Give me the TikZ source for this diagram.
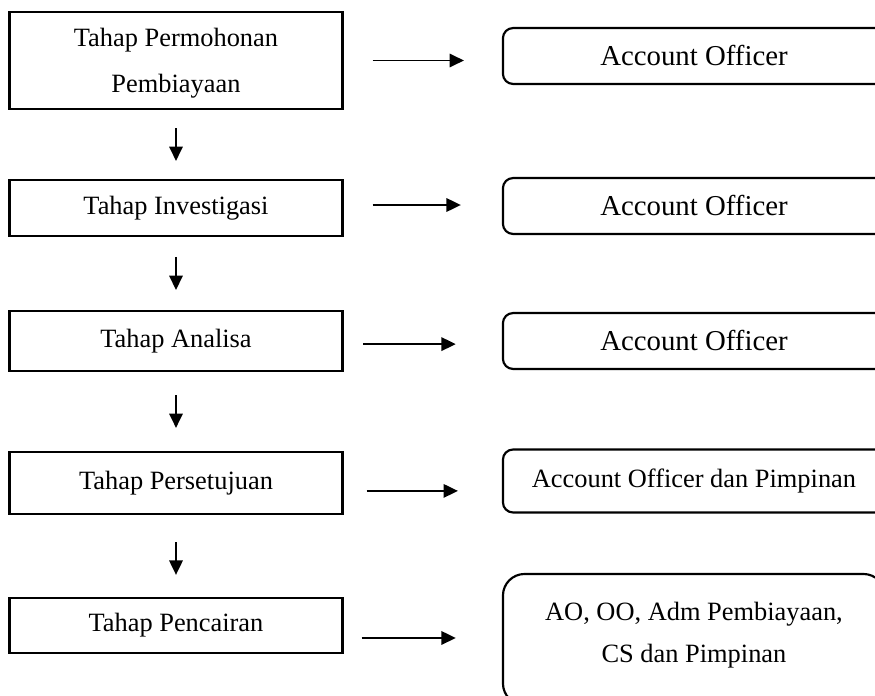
\documentclass[tikz,border=0pt]{standalone}
\usepackage{fontspec}
\setmainfont{Liberation Serif}
\usepackage{tikz}
\usetikzlibrary{arrows.meta,positioning,calc}

\begin{document}
\begin{tikzpicture}[x=0.41667pt, y=-0.41667pt,
    stage/.style={draw, line width=0.9pt, minimum width=138.75pt, inner sep=0pt,
                  align=center, font=\fontsize{11}{19}\selectfont},
    actor/.style={draw, line width=0.9pt, rounded corners=4.2pt, minimum width=159.2pt,
                  minimum height=23.3pt, inner sep=0pt, align=center,
                  font=\fontsize{12}{14}\selectfont},
    flow/.style={-{Triangle[length=6pt,width=5.6pt]}, line width=0.8pt}]
  \useasboundingbox (0,0) rectangle (875,696);
  % Stages of the financing process
  \node[stage, minimum height=40.4pt, text depth=-1.5pt] (permohonan) at (176,60.5) {Tahap Permohonan\\Pembiayaan};
  \node[stage, minimum height=23.3pt] (investigasi) at (176,208) {Tahap Investigasi};
  \node[stage, minimum height=25pt] (analisa) at (176,341) {Tahap Analisa};
  \node[stage, minimum height=25.8pt] (persetujuan) at (176,483) {Tahap Persetujuan};
  \node[stage, minimum height=22.9pt] (pencairan) at (176,625.5) {Tahap Pencairan};
  % Who handles each stage
  \node[actor] (ao1) at (694,56) {Account Officer};
  \node[actor] (ao2) at (694,206) {Account Officer};
  \node[actor] (ao3) at (694,341) {Account Officer};
  \node[actor, minimum height=26.25pt, font=\fontsize{11}{14}\selectfont] (aopim) at (694,481)
    {Account Officer dan Pimpinan};
  \node[actor, minimum height=54.6pt, rounded corners=9pt, text depth=5.8pt,
        font=\fontsize{11}{17.5}\selectfont]
    (tim) at (694,639.5) {AO, OO, Adm Pembiayaan,\\CS dan Pimpinan};
  % Downward flow
  \draw[flow, shorten <=7.5pt, shorten >=7.5pt] (permohonan) -- (investigasi);
  \draw[flow, shorten <=8.3pt, shorten >=8.3pt] (investigasi) -- (analisa);
  \draw[flow, shorten <=9.6pt, shorten >=9.6pt] (analisa) -- (persetujuan);
  \draw[flow, shorten <=11.25pt, shorten >=9.2pt] (persetujuan) -- (pencairan);
  % Stage to actor
  \draw[flow, shorten <=12.1pt, shorten >=15.8pt] (permohonan.east) -- (permohonan.east -| ao1.west);
  \draw[flow, shorten <=12.1pt, shorten >=17.1pt] ([yshift=1.25pt]investigasi.east) -- ([yshift=1.25pt]investigasi.east -| ao2.west);
  \draw[flow, shorten <=8.3pt, shorten >=19.2pt] ([yshift=-1.3pt]analisa.east) -- ([yshift=-1.3pt]analisa.east -| ao3.west);
  \draw[flow, shorten <=9.6pt, shorten >=18.3pt] ([yshift=-3.3pt]persetujuan.east) -- ([yshift=-3.3pt]persetujuan.east -| aopim.west);
  \draw[flow, shorten <=7.5pt, shorten >=19.2pt] ([yshift=-5.2pt]pencairan.east) -- ([yshift=-5.2pt]pencairan.east -| tim.west);
\end{tikzpicture}
\end{document}
